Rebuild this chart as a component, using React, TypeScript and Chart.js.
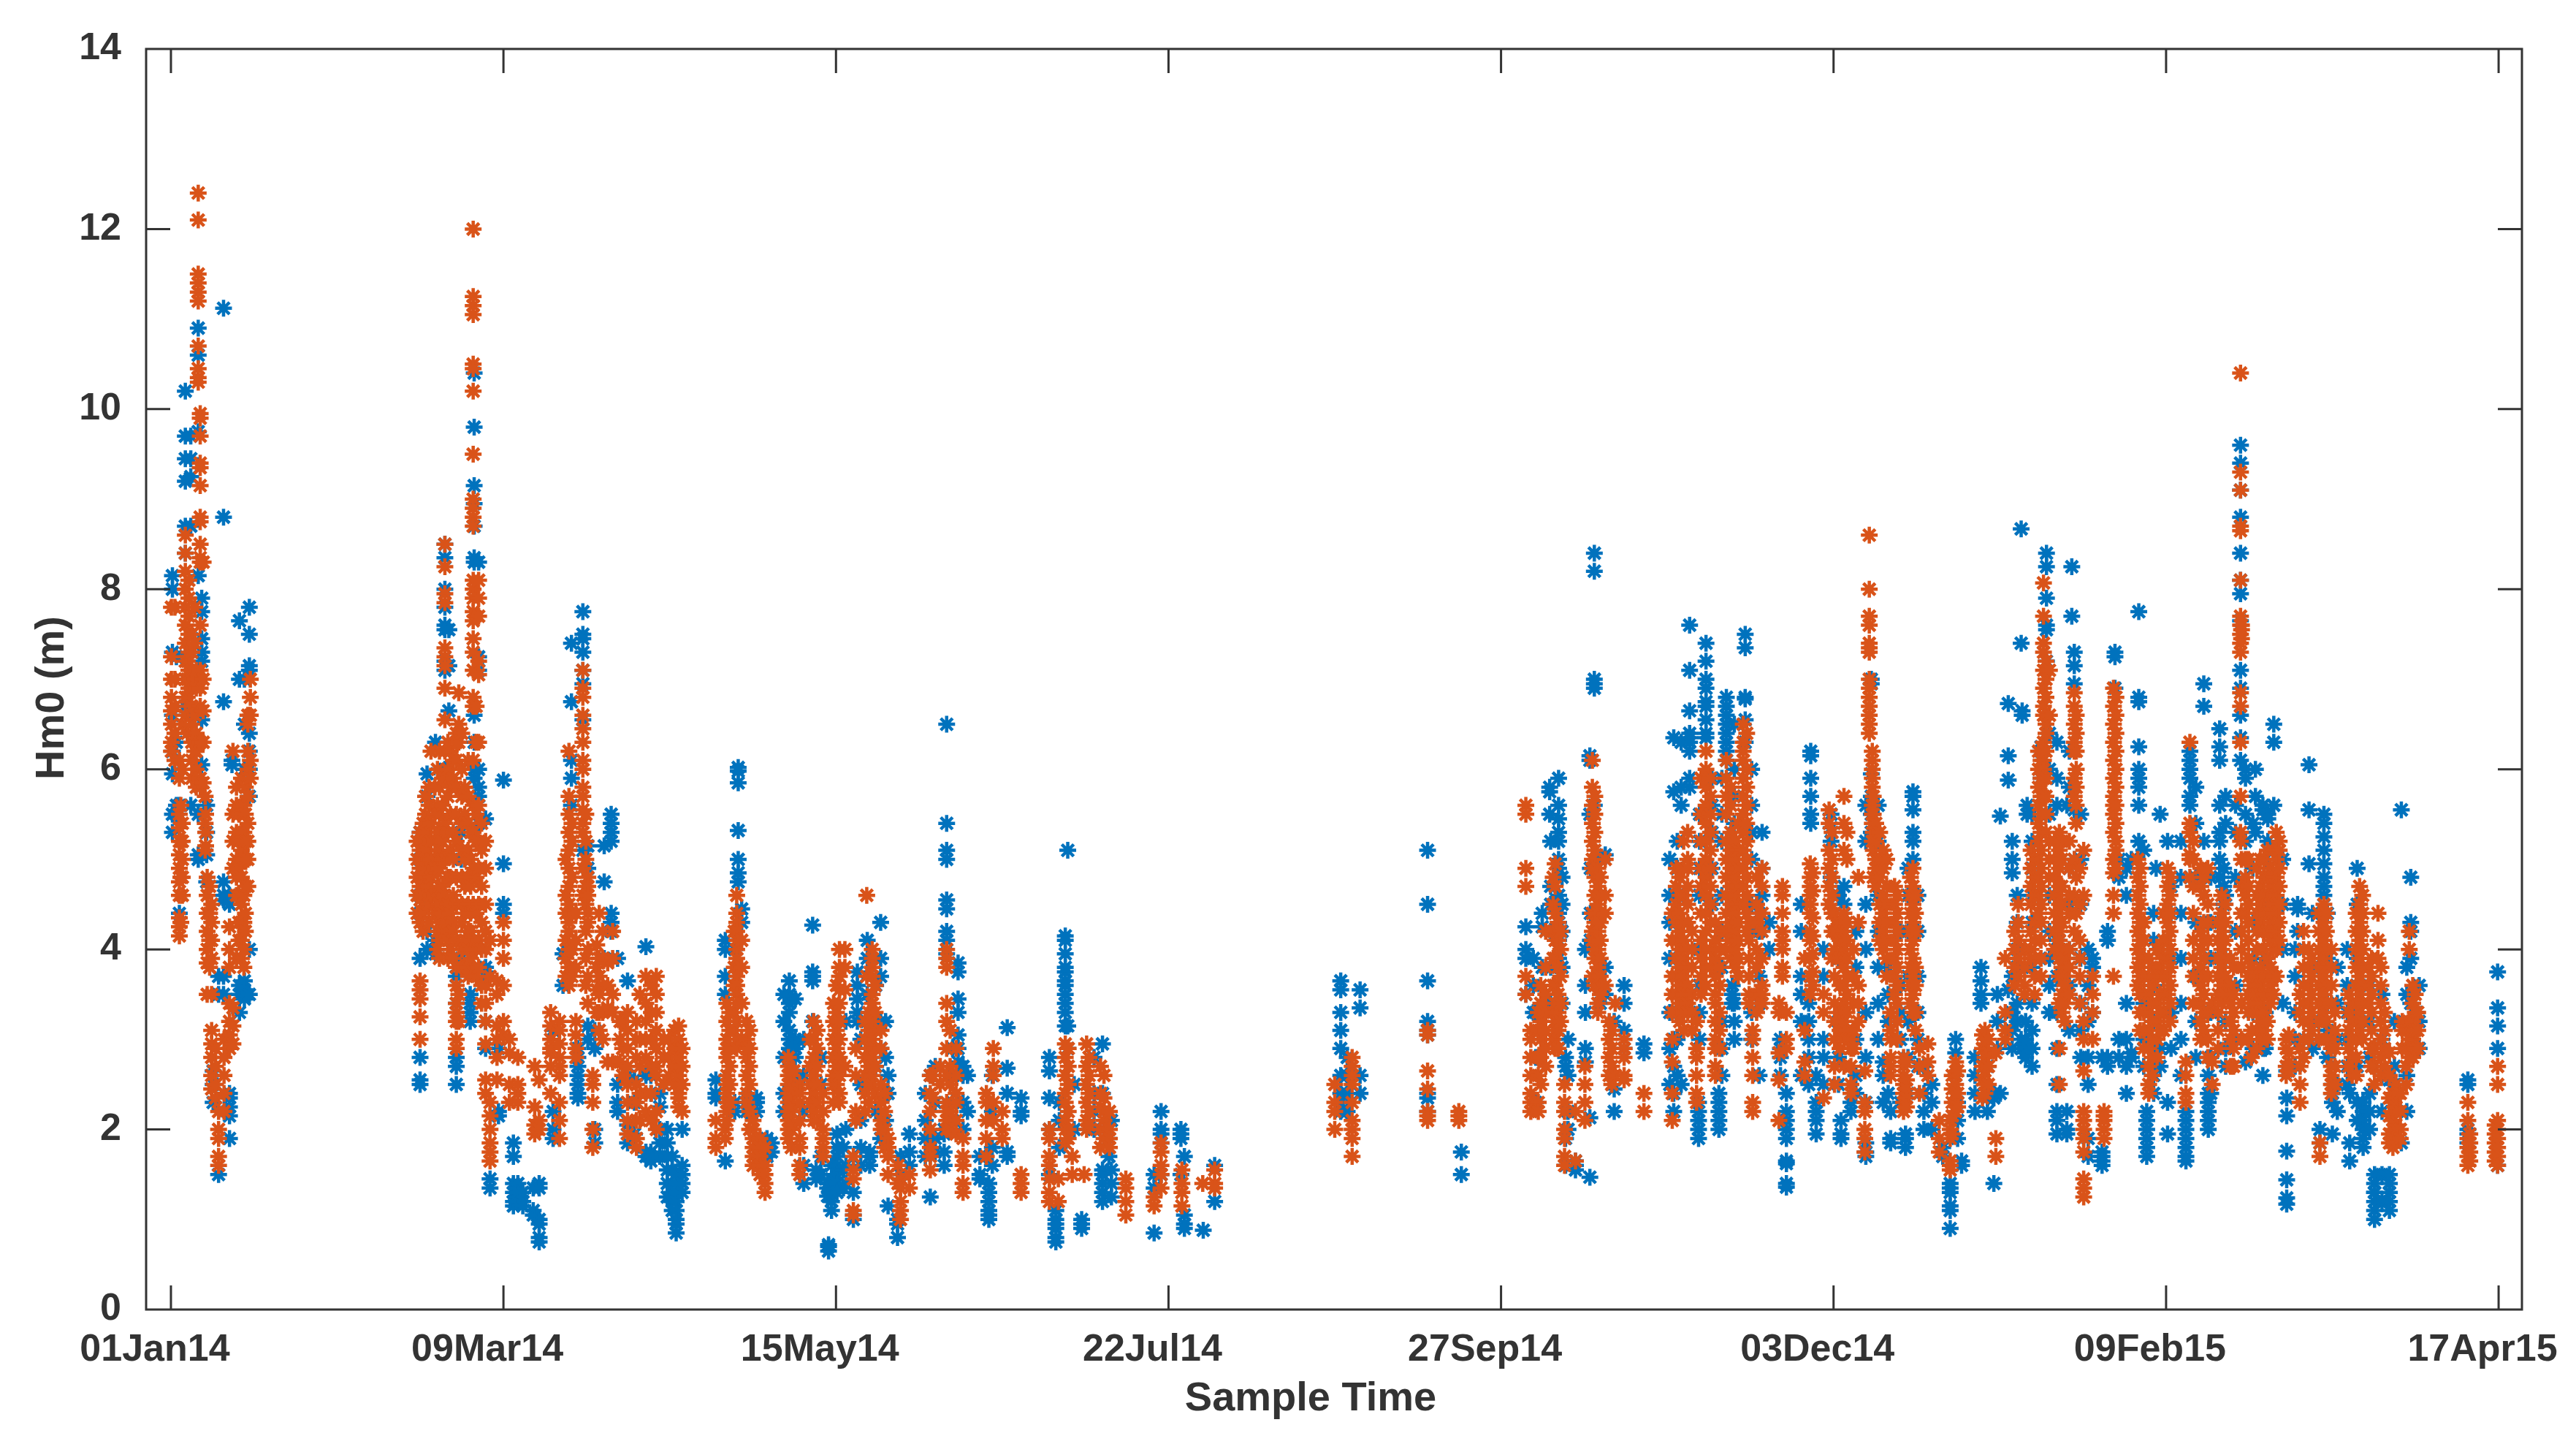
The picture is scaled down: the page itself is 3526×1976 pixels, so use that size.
import React, { useEffect, useRef } from "react";
import { Chart, registerables } from "chart.js";

Chart.register(...registerables);

type Col = [number, number[]];

const xTickValues = [0, 67, 134, 201, 268, 335, 402, 469];
const xTickLabels = ["01Jan14", "09Mar14", "15May14", "22Jul14", "27Sep14", "03Dec14", "09Feb15", "17Apr15"];
const yTickValues = [0, 2, 4, 6, 8, 10, 12, 14];

const janBlue: Col[] = [
  [0.3, [8.15, 8.0, 7.3, 6.6, 6.2, 5.95, 5.5, 5.3]],
  [1.1, [7.25, 5.6, 5.5, 6.3]],
  [1.7, [4.4, 5.6]],
  [2.9, [10.2, 9.7, 9.45, 9.2, 8.7, 8.4, 7.25, 6.7]],
  [4.0, [9.25, 9.45, 9.7, 8.7, 6.6, 5.6]],
  [5.5, [10.9, 10.6, 9.75, 8.15, 5.5, 5.05, 5.0]],
  [6.2, [7.9, 7.75, 7.45, 7.3, 7.2, 6.55, 6.05]],
  [7.2, [5.6, 5.3, 5.05, 4.75]],
  [8.5, [2.65, 2.5, 2.3]],
  [9.6, [1.5, 3.5, 3.7]],
  [10.6, [11.12, 8.8, 6.75, 4.75, 4.6, 4.55, 3.7, 3.5]],
  [11.8, [2.4, 2.35, 2.25, 2.15, 1.9, 4.6, 4.5]],
  [12.3, [6.1, 6.05]],
  [13.8, [7.65, 7.0, 3.6, 3.5, 3.3]],
  [14.8, [7.0, 6.5, 6.0, 3.65, 3.55, 3.45]],
  [15.8, [7.8, 7.5, 7.15, 7.1, 6.4, 6.2, 6.0, 5.7, 3.5, 4.0]],
];
const janOrange: Col[] = [
  [0.1, [7.8, 7.25, 7.0, 6.8, 6.65, 6.5, 6.3, 6.2]],
  [0.8, [7.8, 7.0, 6.7, 6.4, 6.1]],
  [1.7, [4.15, 4.25, 4.35, 4.6, 4.75, 4.9, 5.05, 5.2, 5.35, 5.5, 5.9, 6.1]],
  [2.0, [5.6, 5.2, 4.8, 4.3]],
  [2.3, [4.6, 4.8, 5.0, 5.2, 5.4, 6.0, 6.5]],
  [2.9, [6.6, 6.8, 7.0, 7.2, 7.4, 7.6, 7.8, 8.0, 8.2, 8.4, 8.6]],
  [3.3, [7.0, 7.2, 6.8, 6.4]],
  [3.6, [6.9, 7.1, 7.3, 7.5, 7.7, 7.9, 8.1]],
  [4.2, [5.9, 6.1, 6.3, 6.5, 6.7, 6.9, 7.1, 7.3, 7.5]],
  [4.8, [7.8, 7.4, 7.0, 6.6, 6.2]],
  [5.1, [5.8, 6.0, 6.2, 6.4, 6.9, 7.1]],
  [5.5, [12.4, 12.1, 11.5, 11.4, 11.3, 11.2, 10.7, 10.45, 10.35, 10.3]],
  [5.9, [9.95, 9.9, 9.7, 9.4, 9.35, 9.15, 8.8, 8.75, 8.5, 8.35, 8.3, 7.6, 7.1, 6.9, 6.7, 6.3, 5.9, 5.8]],
  [6.5, [7.0, 6.65, 6.3, 5.85, 8.3]],
  [6.9, [5.7, 5.4, 5.1]],
  [7.0, [5.5, 5.3, 5.15]],
  [7.3, [4.8, 4.6, 4.4, 4.2, 4.0, 3.85, 3.5]],
  [7.8, [4.7, 4.4, 4.1, 3.8]],
  [8.2, [3.1, 2.95, 2.8, 2.6, 2.45, 4.5, 4.3, 4.1, 3.9, 3.5]],
  [9.0, [2.9, 2.7, 2.5, 2.35]],
  [9.6, [2.2, 2.0, 1.9, 1.7, 1.6]],
  [10.7, [3.0, 2.8, 2.6, 2.4, 2.2]],
  [11.8, [3.4, 3.2, 3.05, 2.9, 3.8, 4.0, 4.25]],
  [12.5, [3.35, 3.15, 2.95, 5.5, 5.2, 4.9, 6.2]],
  [13.2, [5.8, 5.6, 5.3, 5.0, 4.8, 4.6, 3.9]],
  [13.7, [5.5, 5.2, 4.9, 4.6, 4.3, 4.1]],
  [14.2, [5.9, 5.6, 5.3, 5.1, 4.8, 4.5, 4.3, 4.1, 3.9]],
  [14.7, [5.6, 5.3, 5.0, 4.6, 4.3, 4.0, 3.8]],
  [15.0, [5.8, 5.5, 5.2, 5.0, 4.7, 4.4, 4.2]],
  [15.5, [6.6, 6.5, 6.2, 6.0, 5.7, 5.4, 5.2, 5.0, 4.7]],
  [16.0, [7.0, 6.8, 6.6, 6.1, 5.9]],
];

const marBlue: Col[] = [
  [50.2, [2.8, 2.55, 2.5, 3.9, 4.4, 4.6, 5.0, 5.3]],
  [51.6, [5.95, 5.7, 4.0, 4.2]],
  [53.3, [6.3, 4.1, 4.0, 3.95]],
  [55.2, [8.5, 8.35, 8.0, 7.8, 7.6, 7.55, 7.2, 7.1, 6.0]],
  [56.0, [7.55, 7.15, 6.65]],
  [57.5, [2.8, 2.7, 2.5, 3.4, 3.7]],
  [58.5, [5.3, 5.0, 3.9]],
  [60.3, [3.5, 3.4, 3.3, 3.2]],
  [61.1, [10.4, 9.8, 9.15, 8.95, 8.7, 8.35, 8.3, 6.6, 6.3, 6.0, 5.9]],
  [62.0, [8.3, 7.25, 7.1, 6.0, 5.8, 5.7, 5.4]],
  [63.4, [5.45, 3.8, 3.75, 3.7, 3.2, 2.9]],
  [64.3, [1.45, 1.35]],
  [66.0, [2.9, 2.2, 2.15]],
  [67.0, [5.88, 4.95, 4.5, 4.4]],
  [69.0, [1.85, 1.7, 1.4, 1.3, 1.2, 1.15]],
  [69.9, [1.4, 1.25, 1.2, 1.3]],
  [70.9, [1.3, 1.2, 1.15]],
  [73.0, [1.35, 1.1, 1.05]],
  [74.2, [1.4, 1.35, 1.0, 0.95]],
  [74.2, [0.8, 0.75]],
  [77.0, [2.2, 2.0, 1.9, 3.1]],
  [79.0, [3.95, 3.6]],
  [80.7, [7.4, 6.75, 6.1, 5.9, 5.6, 4.4]],
  [82.0, [2.8, 2.7, 2.6, 2.5, 2.4, 2.35, 2.9]],
  [83.0, [7.75, 7.5, 7.45, 7.3, 7.1, 6.95, 6.55, 5.1]],
  [84.0, [5.15, 4.9, 3.15, 3.0]],
  [85.4, [3.1, 2.9, 2.0, 1.85]],
  [87.3, [5.15, 4.75, 3.9]],
  [88.7, [5.5, 5.4, 5.3, 5.2, 4.4, 4.3, 4.2]],
  [90.0, [3.9, 2.5, 2.3, 2.2]],
  [92.0, [3.65, 2.6, 2.05, 1.85]],
  [93.4, [2.3, 1.95, 2.55]],
  [95.7, [4.03, 2.6, 1.75, 1.7]],
  [96.7, [1.7, 1.65, 2.6, 2.4, 1.75]],
  [98.5, [2.4, 2.25, 2.0, 1.85, 1.7]],
  [100.0, [2.0, 1.85, 1.7, 1.55, 1.4, 1.25]],
  [101.0, [1.7, 1.55, 1.4, 1.3, 1.2, 1.1]],
  [101.8, [1.5, 1.4, 1.3, 1.2, 1.1, 1.0, 0.95, 0.85]],
  [103.0, [2.0, 1.6, 1.5, 1.4, 1.3]],
];
const marOrange: Col[] = [
  [49.6, [5.2, 5.0, 4.8, 4.6, 4.4]],
  [50.2, [5.3, 5.1, 4.9, 4.7, 4.55, 4.3, 3.65, 3.55, 3.45, 3.25, 3.0]],
  [50.8, [5.4, 5.2, 5.0, 4.8, 4.6, 4.4, 4.2]],
  [51.3, [5.7, 5.5, 5.3, 5.1, 4.9, 4.75]],
  [52.0, [5.8, 5.6, 5.0, 4.7, 4.5, 4.3]],
  [52.4, [6.2, 5.4, 5.2, 5.0, 4.8, 4.6]],
  [53.2, [5.8, 5.5, 5.2, 4.9, 4.6, 4.4]],
  [53.7, [6.0, 5.6, 5.3, 5.05, 4.85, 4.65, 4.45, 4.2, 4.0]],
  [54.1, [6.2, 5.8, 5.5, 5.3, 5.1, 4.9, 4.7, 4.5, 4.3, 4.1, 3.9]],
  [54.7, [5.9, 5.6, 5.2, 5.0, 4.7, 4.4, 4.2]],
  [55.2, [8.5, 8.25, 7.95, 7.85, 7.35, 7.25, 7.15, 6.9, 6.55, 6.2, 5.9, 5.4, 5.0, 4.6, 4.2]],
  [55.8, [6.3, 6.0, 5.7, 5.3, 5.05, 4.8, 4.5, 4.3, 4.1, 3.9]],
  [56.3, [6.2, 5.8, 5.5, 5.1, 4.8, 4.4, 4.0]],
  [56.9, [6.1, 5.9, 5.3, 5.0, 4.6, 4.3, 4.2, 3.9]],
  [57.5, [6.4, 6.3, 6.1, 5.8, 5.5, 5.2, 4.8, 4.5, 4.1, 3.8, 3.6, 3.4, 3.3, 3.2, 3.0, 2.9]],
  [58.0, [6.85, 6.5, 6.3, 3.5, 3.2]],
  [58.6, [6.4, 6.0, 5.7, 5.4, 5.1, 4.8, 4.5, 4.3, 4.0, 3.8]],
  [59.2, [5.8, 5.5, 5.0, 4.7, 4.4, 4.1, 3.8]],
  [59.9, [6.1, 5.7, 5.4, 5.1, 4.8, 4.5, 4.2, 4.0, 3.8, 3.7]],
  [60.4, [5.3, 5.0, 4.7, 4.4, 4.2, 3.9]],
  [60.9, [12.0, 11.25, 11.15, 11.05, 10.5, 10.45, 10.2, 9.5, 9.0, 8.9, 8.8, 8.7, 8.1, 8.0, 7.9, 7.75, 7.65, 7.45, 7.3, 7.1, 6.8, 6.7, 6.1, 5.6, 5.3, 4.9, 4.5, 4.1, 3.75]],
  [61.5, [5.5, 5.2, 4.8, 4.4, 4.0, 3.7, 6.7, 6.3]],
  [62.0, [8.1, 7.9, 7.7, 7.2, 7.05, 6.3, 5.6, 5.2, 4.9, 4.5, 4.1, 3.8]],
  [62.6, [5.4, 5.1, 4.7, 4.3, 4.0, 3.6, 3.4]],
  [63.4, [5.2, 4.9, 4.5, 4.2, 4.0, 3.6, 3.4, 3.2, 2.95, 2.55, 2.4]],
  [64.3, [2.3, 2.15, 2.0, 1.85, 1.75, 1.65, 4.1, 3.7]],
  [65.7, [3.65, 3.5, 3.15, 3.0, 2.8, 2.55]],
  [67.0, [4.3, 4.1, 3.9, 3.6, 3.2, 3.05]],
  [68.2, [3.0, 2.85, 2.5, 2.3]],
  [69.9, [2.8, 2.4, 2.3, 2.5]],
  [73.3, [2.7, 2.25, 2.05, 1.95]],
  [74.2, [2.1, 2.0, 2.55]],
  [76.5, [3.3, 3.15, 3.0, 2.85, 2.7, 2.4, 2.9]],
  [78.3, [3.2, 3.1, 2.95, 2.8, 2.7, 2.6, 2.3, 2.1, 1.9]],
  [79.6, [5.0, 4.6, 4.4, 4.1, 3.9, 3.7]],
  [80.2, [6.2, 5.7, 5.5, 5.3, 5.1, 4.9, 4.7, 4.5, 4.3, 4.2, 4.0, 3.8, 3.6]],
  [80.8, [5.4, 5.2, 4.8, 4.4, 4.0, 3.7]],
  [81.6, [3.2, 3.05, 2.9, 2.8, 4.4, 4.1, 3.8]],
  [83.0, [7.1, 6.9, 6.8, 6.6, 6.45, 6.3, 6.1, 6.0, 5.8, 5.7, 5.55, 5.4, 5.3, 4.9, 4.6]],
  [83.6, [5.5, 5.2, 5.0, 4.7, 4.5, 4.2, 3.9, 3.6]],
  [84.0, [4.8, 4.7, 4.6, 4.4, 4.3, 4.0, 3.7, 3.4]],
  [85.0, [2.6, 2.5, 2.3, 2.0, 1.8]],
  [85.8, [4.05, 3.8, 3.55, 3.3]],
  [86.3, [4.4, 3.9, 3.7, 3.5, 3.3, 3.1]],
  [87.0, [4.2, 3.9, 3.6, 3.3, 3.0]],
  [88.0, [3.85, 3.6, 3.35, 2.75]],
  [89.0, [4.2, 3.9, 3.5, 3.3, 2.75]],
  [90.5, [3.2, 3.0, 2.75]],
  [91.0, [3.2, 2.9, 2.6]],
  [92.0, [3.3, 3.1, 2.9, 2.7, 2.5, 2.3, 2.1, 1.95]],
  [93.8, [3.2, 3.0, 2.8, 2.5, 2.3, 2.1, 1.9, 1.8]],
  [94.5, [3.5, 3.0, 2.7, 2.4, 2.1]],
  [95.7, [3.7, 3.4, 3.2, 3.0, 2.8, 2.2, 2.4]],
  [96.8, [3.6, 3.3, 3.0, 2.7, 2.4, 2.1]],
  [97.8, [3.7, 3.5, 3.3, 3.1, 2.9, 2.7, 2.6, 2.2, 2.0]],
  [99.3, [3.0, 2.8, 2.5]],
  [100.4, [3.0, 2.8, 2.6]],
  [101.5, [3.1, 2.9, 2.7, 2.5]],
  [102.3, [3.15, 3.0, 2.8, 2.6, 2.4, 2.35, 2.25]],
  [103.0, [2.9, 2.7, 2.5, 2.2]],
];

const mayBlue: Col[] = [
  [109.8, [2.55, 2.4, 2.35]],
  [111.7, [4.1, 4.0, 3.7, 3.5, 1.65]],
  [113.6, [2.3, 2.2, 4.0]],
  [114.3, [6.02, 5.98, 5.85, 5.32, 5.0, 4.85, 4.75]],
  [115.0, [4.45, 4.3]],
  [116.0, [2.3, 2.35, 2.2]],
  [118.0, [2.35, 2.3, 2.2]],
  [120.1, [1.9, 1.7]],
  [121.0, [1.85, 1.75]],
  [123.5, [3.5, 3.2, 2.8, 2.4, 2.2]],
  [124.6, [3.65, 3.5, 3.4, 3.3, 3.1, 3.0, 2.9]],
  [125.8, [3.45, 3.0, 2.95, 2.8, 2.6, 2.9]],
  [127.5, [3.0, 2.6, 2.2, 1.6, 1.4]],
  [129.3, [4.27, 3.75, 3.7, 3.65, 3.2]],
  [130.0, [1.45, 1.55]],
  [131.0, [2.8, 2.5, 1.7, 1.5]],
  [132.3, [1.4, 1.35, 1.26]],
  [132.5, [0.7, 0.65, 0.72]],
  [133.1, [1.2, 1.1, 1.45, 1.6]],
  [134.2, [1.95, 1.8, 1.7, 1.6, 1.5, 1.4, 1.3]],
  [135.5, [1.8, 1.55, 1.35]],
  [136.0, [3.2, 2.0, 1.6, 1.4]],
  [137.5, [1.3, 1.05, 1.0]],
  [138.3, [3.75, 3.45, 3.3, 3.2, 3.6]],
  [139.0, [3.0, 2.5, 2.1, 1.8, 1.6]],
  [140.3, [4.1, 3.9, 3.5]],
  [140.8, [1.7, 1.6, 1.75]],
  [142.0, [3.6, 3.2, 2.7, 2.2]],
  [143.0, [4.3, 3.9, 3.7, 3.2, 2.9, 1.9]],
  [144.0, [3.2, 2.8, 2.4, 2.1]],
  [144.5, [1.15, 2.6, 2.4]],
  [146.4, [0.95, 0.8, 1.0]],
  [147.0, [1.7, 1.5]],
  [148.8, [1.95, 1.75, 1.6]],
  [152.0, [2.4, 2.1, 1.9, 1.7]],
  [153.0, [1.25, 2.6, 1.9]],
  [154.0, [2.7, 2.3, 1.9, 1.75]],
  [155.8, [1.95, 1.75, 1.6, 2.0]],
  [156.3, [6.5, 5.4, 5.1, 5.0, 4.55, 4.45, 4.2, 4.1, 3.95]],
  [157.5, [2.9, 2.6, 2.3, 2.1]],
  [158.6, [3.85, 3.75, 3.45, 3.3, 3.05, 2.9, 2.75]],
  [159.6, [2.7, 2.6, 2.3, 2.0]],
  [160.5, [2.6, 2.2]],
  [163.0, [1.7, 1.5, 1.45]],
  [164.8, [1.4, 1.2, 1.1, 1.05, 1.0, 1.3]],
  [165.5, [2.6, 2.2, 1.8, 1.6]],
  [168.5, [3.13, 2.68, 2.4, 1.7, 1.75]],
  [171.3, [2.35, 2.2, 2.15]],
  [177.0, [2.8, 2.65, 2.35, 2.0, 1.5]],
  [178.3, [1.1, 1.0, 0.9, 0.8, 0.75, 0.95]],
  [179.0, [2.3, 2.1, 1.8]],
  [180.2, [4.15, 4.1, 3.95, 3.8, 3.75, 3.65, 3.6, 3.5, 3.4, 3.3, 3.15]],
  [180.7, [5.1, 3.15, 2.9]],
  [182.0, [2.5, 2.0]],
  [183.5, [1.0, 0.95, 0.9]],
  [186.0, [2.8, 2.4, 2.2, 2.0]],
  [187.7, [2.95, 2.4, 1.5, 1.4, 1.3, 1.2, 1.55]],
  [189.0, [2.1, 1.9, 1.7]],
  [189.5, [1.55, 1.4, 1.25, 2.1]],
  [198.1, [0.85, 1.5, 1.35]],
  [199.5, [2.2, 2.0, 1.95, 1.85, 1.5]],
  [203.5, [2.0, 1.95, 1.9, 1.5]],
  [204.2, [1.7, 1.05, 0.95, 0.9]],
  [208.0, [0.88]],
  [210.3, [1.6, 1.2]],
];
const mayOrange: Col[] = [
  [109.8, [2.1, 1.9, 1.8]],
  [111.7, [2.0, 1.9]],
  [112.0, [3.4, 3.2, 3.0, 2.9, 2.8, 2.6, 2.5, 2.4, 2.3, 2.2, 2.1]],
  [112.6, [3.3, 3.1, 2.9, 2.7, 2.5, 2.3]],
  [113.5, [4.2, 3.8, 3.6, 3.3, 3.1]],
  [114.0, [4.6, 4.4, 4.3, 4.2, 4.1, 4.0, 3.9, 3.7, 3.6, 3.5, 3.4, 3.2, 3.0, 2.9]],
  [115.0, [4.1, 3.8, 3.4, 3.0]],
  [116.0, [3.2, 3.0, 2.9, 2.8, 2.6, 2.4, 2.3]],
  [116.6, [3.1, 2.9, 2.7, 2.5, 2.2, 2.0]],
  [117.3, [2.1, 2.0, 1.9, 1.8, 1.7, 1.6]],
  [118.7, [1.9, 1.8, 1.7, 1.6, 1.5]],
  [119.7, [1.8, 1.6, 1.5, 1.3, 1.4]],
  [124.4, [2.8, 2.7, 2.6, 2.5, 2.4, 2.3, 2.2, 2.1, 2.0, 1.9]],
  [125.0, [2.6, 2.4, 2.2, 2.0, 1.8]],
  [125.5, [2.65, 2.45, 2.25, 2.05]],
  [126.7, [2.5, 2.4, 2.3, 2.1, 1.9, 1.8, 1.6, 1.5]],
  [128.8, [3.0, 2.7, 2.5, 2.3]],
  [129.5, [3.2, 3.0, 2.8, 2.6, 2.4, 2.2, 2.1]],
  [130.2, [3.1, 2.9, 2.7, 2.5, 2.3, 2.1]],
  [131.4, [2.4, 2.2, 2.0, 1.9, 1.8, 1.7]],
  [133.5, [3.4, 3.2, 3.0, 2.8, 2.6, 2.5, 2.3]],
  [134.1, [3.6, 3.3, 3.1, 2.9, 2.7, 2.5]],
  [134.7, [4.0, 3.8, 3.7, 3.55, 3.4, 3.2, 3.0, 2.8, 2.6, 2.4, 2.3]],
  [135.8, [4.0, 3.8, 3.55, 2.7]],
  [137.5, [1.7, 1.55, 1.45, 1.1, 1.05]],
  [138.0, [2.2, 2.1, 2.9, 2.6]],
  [139.9, [3.2, 3.0, 2.8, 2.6, 2.4, 2.2]],
  [140.2, [4.6, 3.7]],
  [140.6, [3.3, 3.1, 2.9, 2.7, 2.5, 2.3]],
  [141.3, [4.0, 3.9, 3.8, 3.7, 3.5, 3.4, 3.2, 3.0, 2.8, 2.6, 2.5]],
  [141.9, [3.6, 3.3, 3.1, 2.9, 2.7, 2.4]],
  [143.1, [2.5, 2.3, 2.1, 2.0, 2.9, 3.1]],
  [143.8, [2.4, 2.2, 2.0, 1.8]],
  [144.5, [1.9, 1.8, 1.7, 1.5]],
  [146.5, [1.6, 1.4]],
  [147.0, [1.45, 1.35, 1.2, 1.1, 1.0]],
  [148.8, [1.5, 1.35]],
  [153.0, [2.6, 2.4, 2.2, 2.0, 1.8, 1.7, 1.55]],
  [153.5, [2.6, 2.35]],
  [155.0, [2.7, 2.5]],
  [156.3, [4.0, 3.9, 3.8, 3.4, 3.2, 2.9, 2.6, 2.3, 2.2, 2.1, 2.0]],
  [157.0, [3.1, 2.7, 2.5, 2.2, 2.0]],
  [158.2, [2.9, 2.6, 2.4, 2.3, 2.1, 1.95]],
  [159.6, [1.9, 1.7, 1.6, 1.4, 1.3]],
  [164.3, [2.4, 2.3, 2.1, 1.9, 1.7]],
  [165.7, [2.9, 2.7, 2.6, 2.3, 2.1]],
  [167.5, [2.0, 1.9, 2.2]],
  [171.3, [1.5, 1.4, 1.3]],
  [177.0, [2.0, 1.9, 1.7, 1.6, 1.45, 1.3, 1.2]],
  [178.8, [1.2, 1.45]],
  [180.2, [2.95, 2.8, 2.6, 2.4, 2.3, 2.1, 2.0, 1.85]],
  [180.8, [2.9, 2.7, 2.5, 2.2, 2.0, 1.9]],
  [181.6, [1.7, 1.5]],
  [184.0, [1.5]],
  [184.5, [2.95, 2.7, 2.5, 2.3, 2.1, 2.0]],
  [185.0, [2.8, 2.6, 2.4, 2.2, 2.05]],
  [187.3, [2.7, 2.4, 2.25, 2.0, 1.8]],
  [188.0, [2.6, 2.35, 2.2, 2.1, 1.9]],
  [189.1, [2.2, 2.0, 1.9, 1.8]],
  [192.4, [1.45, 1.35, 1.2, 1.05]],
  [198.1, [1.25, 1.15]],
  [199.5, [1.85, 1.75, 1.6, 1.5, 1.35]],
  [203.7, [1.55, 1.4, 1.3, 1.15]],
  [207.9, [1.4]],
  [210.3, [1.55, 1.4, 1.35]],
];

const sepBlue: Col[] = [
  [235.7, [3.65, 3.55, 3.3, 3.1, 2.9, 2.6, 2.4, 2.3, 2.2]],
  [237.0, [2.8, 2.6, 2.4, 2.2]],
  [239.6, [3.55, 3.35, 2.6, 2.4]],
  [253.2, [5.1, 4.5, 3.65, 3.2, 3.1, 3.05, 2.4, 2.35, 2.2]],
  [260.0, [1.75, 1.5]],
  [273.0, [4.25, 4.0, 3.9, 3.5]],
  [274.5, [3.9, 3.6, 3.3]],
  [275.0, [3.3, 2.8, 2.3]],
  [276.3, [4.25, 4.4, 3.8]],
  [277.8, [5.8, 5.75, 5.5]],
  [278.0, [5.2, 4.7, 4.5, 4.2, 3.8, 3.4]],
  [279.6, [5.9, 5.6, 5.45, 5.3, 5.2, 5.0, 4.9, 4.6, 4.4, 4.3, 4.1, 3.9]],
  [280.3, [4.8, 4.5, 4.2, 3.8, 3.4]],
  [281.0, [2.8, 2.7, 1.9, 1.6]],
  [281.5, [3.0, 2.6, 2.2, 2.0]],
  [283.0, [1.65, 1.6, 1.55]],
  [285.0, [4.0, 3.6, 3.3, 2.9, 2.75]],
  [285.9, [6.15, 6.1, 5.5, 2.13, 1.47]],
  [286.0, [4.9, 4.4, 4.1]],
  [286.8, [8.4, 8.2, 7.0, 6.95, 6.9, 5.6]],
  [288.0, [5.0, 4.6, 3.4]],
  [289.0, [3.8, 3.5, 5.05]],
  [290.8, [2.45, 2.2, 3.2]],
  [292.8, [3.6, 3.4, 3.1, 2.9]],
  [296.8, [2.95, 2.85]],
];
const sepOrange: Col[] = [
  [234.5, [2.5, 2.3, 2.2, 2.0]],
  [238.0, [2.8, 2.7, 2.6, 2.5, 2.3, 2.1, 2.0, 1.9, 1.7]],
  [253.2, [3.1, 3.05, 2.65, 2.45, 2.2, 2.15, 2.1]],
  [259.5, [2.2, 2.15, 2.1]],
  [273.0, [5.6, 5.5, 4.9, 4.7, 3.7, 3.5]],
  [274.0, [3.1, 3.0, 2.8, 2.6, 2.4, 2.3, 2.2]],
  [275.5, [3.3, 3.1, 2.8, 2.6, 2.3, 2.2]],
  [276.0, [3.6, 3.4, 3.2, 3.0, 2.8, 2.5]],
  [277.0, [4.2, 3.8, 3.5, 3.3, 3.1, 2.9, 2.7]],
  [278.5, [4.8, 4.5, 4.2, 3.9, 3.6, 3.3, 3.0]],
  [278.9, [4.95, 4.7, 4.4, 4.1, 3.9, 3.6, 3.4, 3.2, 3.1, 2.9]],
  [279.5, [4.3, 4.1, 3.8, 3.5, 3.3, 3.1, 2.9]],
  [280.0, [4.2, 4.0, 3.7, 3.4, 3.2]],
  [280.8, [2.5, 2.3, 2.2, 2.0, 1.9, 1.7, 1.6]],
  [283.0, [2.2, 1.65]],
  [284.9, [2.7, 2.5, 2.3, 2.1]],
  [286.4, [6.1, 5.8, 5.6, 5.4, 5.2, 5.0, 4.9, 4.4, 4.2, 4.1, 3.7]],
  [286.9, [5.7, 5.5, 5.3, 5.1, 4.8, 4.6, 4.3, 4.0, 3.9, 3.6]],
  [287.5, [4.9, 4.7, 4.5, 4.4, 4.2, 4.0, 3.8, 3.6, 3.4, 3.3]],
  [288.0, [4.8, 4.6, 4.3, 4.1, 3.9, 3.7, 3.5]],
  [289.0, [5.0, 4.6, 4.4, 3.6]],
  [289.8, [3.2, 3.0, 2.8, 2.6]],
  [290.3, [3.1, 2.9, 2.7, 2.5]],
  [291.0, [3.4, 2.6]],
  [292.8, [3.0, 2.9, 2.8, 2.6, 2.55]],
  [296.8, [2.4, 2.2]],
];

const novBlue: Col[] = [
  [302.0, [5.0, 4.6, 4.3, 3.9, 3.3, 2.9, 2.5]],
  [302.8, [6.35, 5.75, 3.0, 2.7, 2.4, 2.2]],
  [303.5, [5.2, 4.9, 4.6, 3.0, 2.6]],
  [304.3, [6.3, 5.8, 5.6, 2.5]],
  [306.0, [7.6, 7.1, 6.65, 6.4, 6.35, 6.3, 6.2, 5.9, 5.8]],
  [307.8, [1.9, 2.0, 2.1, 2.2, 2.3]],
  [308.0, [5.5, 5.2, 4.9, 4.6, 4.0, 3.6, 3.3, 3.0]],
  [309.3, [7.4, 7.2, 7.0, 6.9, 6.75, 6.7, 6.55, 6.4, 6.35]],
  [310.5, [5.9, 5.6, 5.3, 4.9, 4.5]],
  [311.9, [2.4, 2.3, 2.2, 2.1, 2.0]],
  [312.5, [5.9, 5.5, 5.2, 4.6, 4.2, 3.8, 3.2, 2.9, 2.6]],
  [313.4, [6.8, 6.7, 6.6, 6.5, 6.4, 6.3, 6.2, 6.1]],
  [314.6, [3.6, 3.5, 3.4]],
  [315.0, [6.5, 6.0, 5.7, 5.4, 5.0, 4.5, 3.4, 3.2, 3.0]],
  [317.2, [7.5, 7.35, 6.8, 6.78, 6.55, 6.3]],
  [318.5, [6.0, 5.6, 5.3, 5.0, 4.5, 4.2, 3.3, 3.0]],
  [320.0, [4.4, 4.2, 3.7, 3.4, 2.6]],
  [320.6, [5.3, 4.9, 4.6]],
  [322.0, [4.3, 4.0]],
  [324.3, [3.0, 2.9, 2.8, 2.6]],
  [325.5, [2.4, 2.2, 2.1, 2.0, 1.9, 1.65, 1.62, 1.4, 1.36]],
  [328.5, [4.5, 4.2, 3.7, 3.5, 3.2, 2.6]],
  [330.0, [3.4, 3.2, 3.0, 2.8, 2.5]],
  [330.4, [6.2, 6.15, 5.9, 5.7, 5.5, 5.4]],
  [331.5, [2.6, 2.3, 2.2, 2.1, 1.95]],
  [333.0, [4.0, 3.7, 3.0, 2.8, 2.5]],
  [334.5, [5.5, 5.35, 5.2, 4.8]],
  [336.0, [4.6, 3.9, 3.2, 2.8, 2.5]],
  [336.5, [2.1, 1.95, 1.9]],
  [337.1, [4.7, 4.5]],
  [338.5, [2.3, 2.2]],
  [339.5, [4.2, 3.8, 3.0, 2.6, 2.4]],
  [341.5, [1.75, 1.7, 1.85, 2.3, 5.6, 5.2, 4.5, 4.0, 3.3, 2.8]],
  [342.6, [7.0, 6.95, 5.95, 5.7, 5.5, 5.3]],
  [344.0, [5.6, 5.2, 4.6, 4.2, 3.8, 3.4, 3.0]],
  [345.0, [2.75, 2.6, 2.3]],
  [346.0, [3.8, 3.5, 3.2, 2.4]],
  [346.5, [2.2, 1.9, 1.85]],
  [348.5, [4.2, 3.6, 3.3, 3.0, 2.3]],
  [349.5, [1.95, 1.8, 1.9]],
  [350.0, [4.9, 4.6, 4.2, 3.7, 3.2, 2.8, 2.4]],
  [351.0, [5.75, 5.7, 5.55, 5.3, 5.2, 5.0]],
  [352.0, [4.6, 4.2, 3.7, 3.3, 3.0, 2.7]],
  [353.2, [2.7, 2.4, 2.2, 2.0]],
  [354.8, [2.5, 2.3, 2.0]],
  [357.0, [1.8, 1.7]],
  [358.5, [1.4, 1.35, 1.3, 1.15, 0.9, 1.1]],
  [359.6, [3.0, 2.85, 2.6]],
  [360.0, [2.3, 2.1, 1.9]],
  [360.8, [1.65, 1.6]],
];
const novOrange: Col[] = [
  [302.5, [3.0, 2.75, 2.4, 2.1, 3.7, 3.5, 3.3, 4.1, 4.4]],
  [303.3, [4.9, 4.7, 4.5, 4.3, 4.1, 3.9, 3.7, 3.5, 3.3]],
  [304.0, [4.8, 4.6, 4.4, 4.2, 4.0, 3.8, 3.6, 3.4, 3.2]],
  [304.8, [5.2, 4.9, 4.6, 4.3, 4.1, 3.9, 3.7, 3.5, 3.3, 3.1]],
  [305.6, [5.3, 5.0, 4.9, 4.7, 4.5, 4.3, 4.0, 3.8, 3.6, 3.4, 3.3]],
  [306.5, [4.2, 4.0, 3.8, 3.5, 3.3, 3.1]],
  [307.4, [3.2, 2.9, 2.8, 2.6, 2.4, 2.3]],
  [308.3, [5.9, 5.5, 5.2, 4.9, 4.7, 4.4, 4.1, 3.9, 3.7, 3.5]],
  [309.3, [6.2, 6.0, 5.8, 5.6, 5.4, 5.2, 5.0, 4.8, 4.6, 4.4, 4.2, 4.0, 3.8, 3.6]],
  [310.2, [5.9, 5.7, 5.5, 5.3, 5.1, 4.9, 4.7, 4.5, 4.3, 4.0, 3.8]],
  [311.2, [4.3, 4.1, 3.9, 3.7, 3.5, 3.4, 3.2, 3.0, 2.9, 2.7, 2.6]],
  [312.0, [4.2, 4.0, 3.8, 3.6, 3.3, 3.1, 2.9]],
  [313.4, [6.1, 5.9, 5.7, 5.5, 5.2, 5.0, 4.8, 4.6, 4.4, 4.2, 4.0]],
  [314.3, [5.8, 5.6, 5.3, 5.1, 4.9, 4.7, 4.5, 4.3, 4.1, 3.9]],
  [315.3, [5.2, 5.0, 4.8, 4.6, 4.4, 4.2, 4.0, 3.8]],
  [315.8, [5.4, 5.1, 4.9, 4.7, 4.5, 4.3, 4.1, 3.9, 3.7]],
  [316.8, [6.5, 6.3, 6.2, 6.1, 5.9, 5.7, 5.5, 5.3, 5.1, 4.9, 4.7, 4.5]],
  [317.5, [6.4, 6.0, 5.8, 5.6, 5.4, 5.2, 5.0, 4.8, 4.6, 4.4, 4.2]],
  [318.0, [4.3, 4.1, 3.9, 3.7, 3.5, 3.4]],
  [318.7, [3.1, 3.0, 2.8, 2.6, 2.3, 2.2]],
  [319.5, [4.8, 4.5, 4.3, 4.0, 3.8, 3.5, 3.3]],
  [320.6, [4.9, 4.7, 4.4, 4.2, 3.9, 3.6, 3.5, 3.4]],
  [324.0, [3.4, 3.3, 2.85, 2.55, 2.1]],
  [324.7, [4.7, 4.6, 4.4, 4.2, 4.1, 4.0, 3.8, 3.7]],
  [325.5, [3.3, 3.0, 2.9]],
  [329.2, [2.75, 2.6, 3.9, 3.1]],
  [330.3, [4.95, 4.8, 4.7, 4.6, 4.5, 4.4, 4.2, 4.1, 3.9, 3.7, 3.5]],
  [330.8, [4.85, 4.65, 4.35, 4.15, 3.95, 3.75, 3.6]],
  [333.0, [3.5, 3.3, 2.35]],
  [334.1, [5.55, 5.4, 5.1, 4.9, 4.7, 4.5]],
  [334.7, [5.3, 5.0, 4.8, 4.6, 4.4, 4.2, 3.9]],
  [335.2, [4.4, 4.2, 4.0, 3.7, 3.4, 3.2, 3.0, 2.7, 2.5]],
  [336.3, [4.3, 4.1, 3.9, 3.6, 3.3, 3.1, 2.9]],
  [337.1, [5.7, 5.4, 5.1, 4.4, 4.2, 4.0, 3.8, 3.6, 3.4, 3.2, 3.0, 2.7]],
  [337.7, [5.3, 5.0, 4.3, 4.1, 3.9, 3.7, 3.5, 3.3, 3.1]],
  [338.5, [3.0, 2.9, 2.7, 2.5, 2.4]],
  [339.0, [4.0, 3.7, 3.4, 3.1, 2.9]],
  [340.0, [4.8, 4.3, 3.6, 3.4, 3.2]],
  [341.3, [2.65, 2.3, 2.2, 2.0, 1.9, 1.75]],
  [342.2, [8.6, 8.0, 7.7, 7.6, 7.4, 7.35, 7.3, 7.0, 6.9, 6.8, 6.7, 6.6, 6.5, 6.4]],
  [342.8, [6.2, 6.1, 6.0, 5.9, 5.8, 5.6, 5.5, 5.4, 5.2]],
  [343.0, [5.7, 5.5, 5.3, 5.1, 4.8]],
  [343.5, [5.4, 5.2, 5.0, 4.9, 4.7]],
  [344.3, [5.3, 5.0, 4.8, 4.5, 4.3, 4.1]],
  [345.0, [5.1, 4.9, 4.6, 4.4, 4.2, 4.0]],
  [345.7, [5.0, 4.7, 4.5, 4.3, 4.1, 3.9, 3.7]],
  [346.5, [3.3, 3.1, 3.0, 2.8, 2.7, 2.6]],
  [347.3, [4.7, 4.5, 4.3, 4.1, 3.9, 3.7, 3.5]],
  [347.8, [4.6, 4.4, 4.2, 4.0, 3.8, 3.6, 3.4, 3.2, 3.0]],
  [349.1, [2.8, 2.7, 2.6, 2.5, 2.4, 2.3, 2.2]],
  [349.7, [2.75, 2.55, 2.45, 2.35, 2.25]],
  [350.5, [4.8, 4.6, 4.4, 4.2, 4.0, 3.8, 3.6, 3.4]],
  [351.0, [4.9, 4.7, 4.5, 4.3, 4.1, 3.9, 3.7, 3.5, 3.3]],
  [351.5, [4.6, 4.4, 4.2, 3.8, 3.6, 3.3, 3.1]],
  [352.3, [2.9, 2.7, 2.4]],
  [354.0, [2.95, 2.75, 2.6]],
  [356.3, [2.1, 1.9, 1.75]],
  [358.5, [2.1, 2.0, 1.9, 1.65, 1.6, 1.55]],
  [358.9, [2.6, 2.45, 2.3, 2.15, 1.95]],
  [359.6, [2.75, 2.6, 2.5, 2.3, 2.2]],
  [360.0, [2.65, 2.4, 2.25]],
];

const janFebBlue: Col[] = [
  [363.5, [2.8, 2.6, 2.4, 2.2]],
  [364.7, [3.8, 3.65, 3.5, 3.4]],
  [366.0, [2.7, 2.45, 2.35, 2.2]],
  [367.3, [1.4, 2.4, 2.35]],
  [368.0, [3.5, 3.2, 2.9]],
  [368.6, [5.48, 2.4]],
  [370.2, [6.73, 6.15, 5.88, 3.55]],
  [371.0, [5.2, 5.0, 4.85, 3.7, 3.3, 3.1, 2.9]],
  [372.0, [4.6, 4.3, 4.0, 3.8, 3.4, 3.2]],
  [372.8, [8.67, 7.4, 3.0, 2.9]],
  [373.0, [6.6, 6.65]],
  [373.7, [3.0, 2.9, 2.8, 2.85, 2.95, 3.2]],
  [374.0, [5.6, 5.5]],
  [375.0, [5.5, 5.2, 4.9, 4.6, 4.3, 3.8, 3.4, 3.1, 2.9, 2.7]],
  [376.8, [6.25, 6.2, 5.9]],
  [377.9, [8.4, 8.25, 7.9, 7.6, 7.55, 7.2]],
  [378.5, [6.4, 6.0, 5.5, 4.6, 4.2, 3.9, 3.6, 3.3]],
  [380.0, [2.2, 2.1, 1.95, 6.3, 5.9, 5.6, 4.1, 3.7, 3.3, 2.9, 2.5]],
  [382.0, [2.2, 2.0, 1.95, 5.6]],
  [382.5, [6.2, 5.8, 4.9, 4.5, 4.0, 3.6, 3.1]],
  [383.0, [8.25, 7.7]],
  [383.5, [7.3, 7.15, 6.95, 5.55, 5.0]],
  [384.8, [5.5, 5.0, 4.5, 3.9, 3.4, 3.1, 2.8]],
  [386.3, [4.0, 3.6, 3.2, 2.8, 2.5, 1.9, 1.7]],
  [387.2, [3.8, 3.9, 3.3]],
  [389.1, [1.75, 1.7, 1.65, 1.6, 2.8]],
  [390.2, [2.8, 2.7, 4.2, 4.1]],
  [391.7, [7.3, 7.25, 6.9]],
  [392.5, [5.0, 4.8, 3.0, 2.8]],
  [394.0, [4.9, 4.6, 3.4, 3.0, 2.7, 2.4]],
  [395.0, [2.85, 2.8, 5.0]],
  [396.5, [7.75, 6.8, 6.75, 6.25, 6.0, 5.9, 5.8, 5.6, 5.2]],
  [397.5, [5.1, 3.9, 3.4, 3.0, 2.7]],
  [398.1, [2.2, 2.1, 2.0, 1.9, 1.8, 1.7]],
  [399.5, [4.4, 4.1, 3.6, 3.2, 2.9, 2.6, 2.4]],
  [400.0, [4.9, 2.75]],
  [400.8, [5.5, 2.9, 2.7]],
  [402.3, [5.2, 2.3, 1.95]],
  [403.0, [4.7, 4.4, 3.9, 3.3, 2.9]],
  [405.0, [5.2, 4.8, 4.4, 3.9, 3.4, 3.0, 2.6]],
  [406.0, [2.2, 2.1, 2.0, 1.9, 1.8, 1.7, 1.65]],
  [406.8, [6.2, 6.1, 6.0, 5.9, 5.7, 5.6]],
  [408.0, [5.8, 5.4, 4.8, 4.3, 3.7, 3.2, 2.8]],
  [409.6, [6.95, 6.7, 5.2]],
  [410.5, [2.6, 2.4, 2.3, 2.2, 2.1, 2.0]],
  [411.0, [4.8, 4.3, 3.9, 3.3, 2.8, 2.4]],
  [412.8, [6.45, 6.25, 6.1, 5.6, 5.3, 5.2, 5.0, 4.8]],
  [413.6, [4.9, 4.7, 4.5]],
  [414.0, [5.7, 5.4, 4.6, 3.9, 3.2, 2.9, 2.7]],
  [416.0, [5.6, 5.3, 4.8, 4.2, 3.6, 3.0]],
  [417.0, [9.6, 9.4, 9.1, 8.8, 8.4, 8.1, 7.95, 7.65, 7.1, 6.9, 6.6, 6.35, 6.1]],
  [418.0, [6.0, 5.9, 5.5, 5.2, 2.75]],
  [419.5, [5.4, 4.9, 4.3, 3.9, 3.3, 2.9]],
  [420.0, [6.0, 5.7, 5.3]],
  [421.5, [2.9, 2.6, 5.6, 5.55]],
  [422.0, [5.0, 4.5, 3.9, 3.3, 2.9]],
  [422.5, [5.5, 5.45, 5.2]],
  [423.7, [6.5, 6.3, 5.6]],
  [425.5, [5.0, 4.5, 4.0, 3.4]],
  [426.3, [2.65, 2.35, 2.15, 1.76, 1.44, 1.24, 1.17]],
  [428.0, [4.0, 3.7, 3.3, 3.0, 2.7]],
  [428.5, [4.5, 4.45, 4.2]],
  [430.8, [6.05, 5.55, 4.95, 3.0]],
  [431.5, [4.4, 3.8, 3.2, 2.9]],
  [433.0, [2.0, 1.85]],
  [433.8, [5.5, 5.4, 5.25, 5.1, 4.95, 4.8, 4.7, 4.6]],
  [434.5, [4.4, 3.9, 3.4, 3.1, 2.8]],
  [435.5, [2.5, 2.4, 1.95, 2.3]],
  [436.5, [3.8, 3.4, 3.0, 2.5, 2.2]],
  [438.5, [4.0, 3.6, 3.3, 3.0, 2.7, 2.5]],
  [439.0, [1.65, 1.85, 2.4]],
  [440.5, [4.9, 4.5, 3.9, 3.3, 2.7, 2.3, 2.1]],
  [441.7, [2.3, 2.2, 2.1, 2.0, 1.9, 1.8]],
  [443.0, [3.6, 3.2, 2.8, 2.4, 2.2, 2.0]],
  [444.0, [1.5, 1.4, 1.3, 1.2, 1.1, 1.0, 1.3]],
  [445.5, [3.5, 3.0, 2.6, 2.2, 1.5, 1.2]],
  [447.0, [1.5, 1.4, 1.3, 1.2, 1.1, 2.55]],
  [448.0, [3.2, 2.7, 2.5]],
  [449.4, [5.55, 1.85]],
  [450.5, [3.8, 3.5, 2.9, 2.6, 2.2]],
  [451.3, [4.8, 4.3, 4.2, 3.9, 3.4]],
  [452.5, [3.2, 3.3]],
  [453.0, [3.6, 3.2, 2.9]],
  [462.8, [2.55, 2.5, 2.0, 1.95, 1.85]],
  [468.8, [3.75, 3.35, 3.15, 2.9, 1.6]],
];
const janFebOrange: Col[] = [
  [365.0, [3.05, 2.9, 2.7, 2.55, 2.35]],
  [365.5, [3.1, 2.95, 2.8, 2.65, 2.5, 2.4]],
  [366.2, [3.0, 2.85, 2.7, 2.5]],
  [367.7, [1.9, 1.7, 2.85]],
  [369.6, [3.3, 3.1, 3.9, 3.0]],
  [371.5, [4.2, 4.0, 3.8, 3.6]],
  [372.2, [4.5, 4.3, 4.1, 3.9, 3.7]],
  [373.5, [4.0, 3.8, 3.6, 3.5]],
  [374.8, [5.1, 4.9, 4.7, 4.5, 4.2, 4.0, 3.9]],
  [375.5, [5.0, 4.8, 4.6, 4.3, 4.1, 3.9, 3.7, 3.5]],
  [376.3, [6.2, 6.0, 5.8, 5.6, 5.4, 5.2, 5.0, 4.8, 4.6, 4.4]],
  [376.8, [6.1, 5.9, 5.7, 5.5, 5.3, 5.1, 4.9, 4.7, 4.5, 4.3, 4.1, 3.9, 3.7]],
  [377.3, [8.07, 7.7, 7.4, 7.3, 7.1, 6.9, 6.7, 6.6, 6.3, 6.1, 6.0, 5.9, 5.7]],
  [377.8, [7.2, 7.0, 6.8, 6.5, 6.4, 6.2, 5.9, 5.7, 5.5, 5.3]],
  [378.5, [5.2, 5.0, 4.8, 6.6, 7.1]],
  [379.5, [5.2, 5.0, 4.8, 4.6, 4.4, 4.2, 4.0]],
  [380.5, [5.3, 5.1, 4.9, 4.7, 4.5, 4.3, 4.2, 4.1, 3.9, 3.7, 3.4, 2.9, 2.5]],
  [381.0, [5.2, 5.0, 4.7, 4.5, 4.3, 4.0, 3.8, 3.5, 3.3]],
  [381.6, [3.9, 3.7, 3.6, 3.4, 3.2]],
  [382.5, [5.2, 4.9, 4.6, 4.4, 4.0, 3.8, 3.5]],
  [383.5, [6.85, 6.7, 6.5, 6.3, 6.2, 5.9, 5.7, 5.0, 4.6, 4.2]],
  [383.9, [6.6, 6.4, 6.2, 6.0, 5.8, 5.6, 5.4, 4.8, 4.4]],
  [384.6, [4.9, 4.5, 4.1, 3.9, 3.7, 3.4]],
  [385.4, [3.2, 3.0, 2.65, 2.2, 2.1, 2.0, 1.9, 1.75, 1.45, 1.35, 1.25, 5.1, 4.6]],
  [387.2, [3.7, 3.5, 3.3, 3.0]],
  [389.5, [2.0, 1.9, 2.2, 2.1, 2.15]],
  [391.4, [6.9, 6.7, 6.5, 6.3, 6.1, 5.9, 5.7, 5.6, 5.5, 5.3, 5.0, 4.85, 4.6, 4.4, 3.7]],
  [391.9, [6.8, 6.6, 6.4, 6.2, 6.0, 5.8, 5.6, 5.4, 5.2, 5.1, 4.9]],
  [396.3, [5.0, 4.8, 4.6, 4.4, 4.2, 4.0, 3.8, 3.6]],
  [396.8, [4.9, 4.7, 4.5, 4.3, 4.1, 3.9, 3.7, 3.5, 3.3, 3.1]],
  [397.5, [4.3, 4.1, 3.9, 3.7, 3.5, 3.3, 3.1, 2.9]],
  [398.5, [3.9, 3.7, 3.5, 3.3, 3.1, 2.9, 2.7, 2.5, 2.4]],
  [399.2, [3.8, 3.6, 3.4, 3.2, 3.0, 2.8, 2.6]],
  [400.2, [4.0, 3.7, 3.4, 3.2, 3.0, 2.8]],
  [400.8, [4.0, 3.8, 3.5, 3.3, 3.1]],
  [401.5, [4.4, 4.1, 3.9, 3.7, 3.5, 3.3, 3.1]],
  [402.3, [4.9, 4.7, 4.5, 4.3, 4.1, 3.9, 3.7, 3.5]],
  [402.8, [4.8, 4.6, 4.4, 4.2, 4.0, 3.8, 3.6, 3.4, 3.2]],
  [406.0, [2.75, 2.6, 2.4, 2.3]],
  [406.8, [6.3, 5.4, 5.3, 5.05, 5.0, 4.8]],
  [407.5, [5.2, 5.0, 4.7, 4.4, 4.1, 3.9, 3.7, 3.4]],
  [409.0, [4.9, 4.7, 4.2, 4.0, 3.8, 3.6, 3.4, 3.2, 3.0]],
  [409.6, [4.8, 4.6, 4.3, 4.1, 3.9, 3.7, 3.5, 3.3, 3.1]],
  [410.4, [4.9, 4.5, 4.3, 4.1, 3.7, 3.3, 3.0, 2.8]],
  [411.3, [2.75, 2.5, 3.4]],
  [412.5, [4.3, 4.1, 3.9, 3.7, 3.5, 3.3, 3.1, 2.9]],
  [413.2, [4.6, 4.4, 4.2, 4.0, 3.8, 3.6, 3.4]],
  [413.9, [4.5, 4.3, 4.1, 3.9, 3.7, 3.5]],
  [415.0, [3.9, 3.6, 3.4, 3.2, 3.0, 2.7]],
  [415.6, [3.8, 3.5, 3.3, 3.1, 2.9, 2.7]],
  [417.0, [10.4, 9.3, 9.1, 8.7, 8.65, 8.1, 7.7, 7.6, 7.5, 7.4, 7.3, 6.85, 6.7, 6.3, 5.7, 5.3, 5.2]],
  [417.2, [7.6, 7.45, 7.55, 5.0, 4.7, 4.4, 4.2, 4.0, 3.8, 3.4, 3.0]],
  [418.0, [5.0, 4.8, 4.6, 4.4]],
  [418.6, [5.0, 4.7, 4.5, 4.3, 4.1, 3.9, 3.7, 3.5, 3.3, 3.0]],
  [419.2, [3.8, 3.6, 3.4, 3.1, 2.8]],
  [420.3, [4.9, 4.6, 4.4, 4.2, 4.0, 3.7, 3.5, 3.3, 3.1, 2.9]],
  [421.0, [5.0, 4.7, 4.5, 4.3, 3.8, 3.6, 3.4, 3.2, 3.0]],
  [421.7, [5.0, 4.8, 4.6, 4.4, 4.2, 4.0, 3.7, 3.5, 3.3, 3.1]],
  [422.4, [5.1, 4.8, 4.6, 4.4, 4.2, 3.9, 3.7, 3.5, 3.2, 3.0]],
  [423.0, [4.9, 4.7, 4.5, 4.3, 4.1, 3.8, 3.6, 3.4]],
  [423.6, [5.1, 4.8, 4.6, 4.4, 4.2, 4.0, 3.7, 3.5]],
  [424.2, [5.3, 5.0, 4.8, 4.6, 4.4, 4.2, 4.0, 3.7]],
  [424.8, [5.2, 5.1, 4.9, 4.7, 4.5, 4.3, 4.1]],
  [426.2, [3.0, 2.9, 2.7, 2.6]],
  [426.7, [3.05, 2.85, 2.75, 2.65]],
  [429.0, [3.5, 3.3, 2.9, 2.7, 2.5, 2.3]],
  [429.7, [4.2, 4.0, 3.8, 3.6, 3.4, 3.2, 3.0, 2.8]],
  [430.8, [4.0, 3.8, 3.6, 3.4, 3.2, 3.0]],
  [431.3, [3.9, 3.7, 3.5, 3.3, 3.1]],
  [432.8, [4.4, 4.2, 4.0, 3.8, 3.6, 3.4, 3.2, 3.0]],
  [433.0, [1.85, 1.7]],
  [433.8, [4.5, 4.3, 4.1, 3.9, 3.7, 3.5, 3.3]],
  [434.3, [4.4, 4.2, 4.0, 3.8, 3.6, 3.4, 3.2, 3.0]],
  [435.3, [4.0, 3.8, 3.6, 3.4, 3.0, 2.9, 2.7, 2.6, 2.5, 2.4]],
  [436.0, [3.3, 3.1, 2.9, 2.7, 2.5]],
  [438.8, [3.5, 3.3, 3.1, 2.9, 2.7]],
  [439.5, [3.4, 3.2, 3.0, 2.8, 2.6]],
  [440.3, [4.4, 4.2, 4.0, 3.8, 3.6, 3.4, 3.2, 3.0, 2.8, 2.6]],
  [441.0, [4.7, 4.5, 4.3, 4.1, 3.9, 3.7, 3.5, 3.3, 3.1]],
  [441.6, [4.6, 4.4, 4.2, 4.0, 3.8, 3.6, 3.4, 3.2, 3.0]],
  [442.8, [3.8, 3.6, 3.4]],
  [443.4, [3.9, 3.7, 3.5, 3.3, 3.1, 2.9, 2.7]],
  [444.0, [2.9, 2.7, 2.5]],
  [444.7, [4.4, 4.1, 3.9]],
  [445.3, [3.8, 3.6, 3.4, 3.2, 3.0, 2.8, 2.6]],
  [446.0, [3.3, 3.1, 2.9, 2.7]],
  [447.0, [2.6, 2.35, 2.15, 1.95, 1.85, 2.85]],
  [447.7, [2.4, 2.3, 2.2, 2.1, 2.0, 1.9, 1.8]],
  [448.3, [2.5, 2.35, 2.25, 2.05, 1.85]],
  [449.2, [2.4, 2.2, 2.0, 1.9]],
  [449.6, [3.2, 3.1, 2.9]],
  [450.4, [3.1, 2.9, 2.7, 2.5]],
  [451.0, [4.2, 4.0, 3.2, 3.0, 2.8]],
  [451.7, [3.6, 3.4, 3.2, 3.0, 2.8]],
  [452.2, [3.5, 3.3, 3.1, 2.9]],
  [452.7, [3.3, 3.1, 2.9]],
  [462.8, [2.3, 2.1, 1.9, 1.8, 1.7, 1.6]],
  [463.2, [1.95, 1.85, 1.75, 1.65]],
  [468.3, [2.05, 1.95, 1.85, 1.75, 1.65]],
  [468.8, [2.7, 2.5, 2.1, 2.0, 1.9, 1.8, 1.7, 1.6]],
];

const blueColumns: Col[][] = [janBlue, marBlue, mayBlue, sepBlue, novBlue, janFebBlue];
const orangeColumns: Col[][] = [janOrange, marOrange, mayOrange, sepOrange, novOrange, janFebOrange];

const toPoints = (groups: Col[][]) =>
  groups.flatMap((g) => g.flatMap(([x, ys]) => ys.map((y) => ({ x, y }))));

const INK = "#333333";

const matlabFrame = {
  id: "matlabFrame",
  afterDatasetsDraw(chart: any) {
    const { ctx, chartArea: a, scales } = chart;
    ctx.save();
    ctx.strokeStyle = INK;
    ctx.lineWidth = 3;
    ctx.beginPath();
    ctx.rect(a.left, a.top, a.right - a.left, a.bottom - a.top);
    for (const v of xTickValues) {
      const p = scales.x.getPixelForValue(v);
      ctx.moveTo(p, a.bottom);
      ctx.lineTo(p, a.bottom - 33);
      ctx.moveTo(p, a.top);
      ctx.lineTo(p, a.top + 33);
    }
    for (const v of yTickValues) {
      const p = scales.y.getPixelForValue(v);
      ctx.moveTo(a.left, p);
      ctx.lineTo(a.left + 33, p);
      ctx.moveTo(a.right, p);
      ctx.lineTo(a.right - 33, p);
    }
    ctx.stroke();
    ctx.fillStyle = INK;
    ctx.font = "bold 56px 'Liberation Sans'";
    ctx.textAlign = "center";
    ctx.textBaseline = "middle";
    ctx.fillText("Sample Time", 1794, 1915);
    ctx.translate(72, 955);
    ctx.rotate(-Math.PI / 2);
    ctx.fillText("Hm0 (m)", 0, 0);
    ctx.restore();
  },
};

export default function App() {
  const ref = useRef<HTMLCanvasElement>(null);
  useEffect(() => {
    const chart = new Chart(ref.current!, {
      type: "scatter",
      data: {
        datasets: [
          {
            label: "Orange",
            data: toPoints(orangeColumns),
            order: 1,
            pointStyle: "star",
            pointRadius: 11.5,
            pointBorderWidth: 4.5,
            pointBorderColor: "#D95319",
            pointBackgroundColor: "#D95319",
          },
          {
            label: "Blue",
            data: toPoints(blueColumns),
            order: 2,
            pointStyle: "star",
            pointRadius: 11.5,
            pointBorderWidth: 4.5,
            pointBorderColor: "#0072BD",
            pointBackgroundColor: "#0072BD",
          },
        ],
      },
      options: {
        responsive: false,
        animation: false,
        layout: { padding: { left: 0, top: 67, right: 74, bottom: 0 } },
        plugins: { legend: { display: false }, tooltip: { enabled: false } },
        scales: {
          x: {
            type: "linear",
            min: -5,
            max: 473.7,
            afterFit: (s: any) => { s.height = 184; s.paddingLeft = 0; s.paddingRight = 0; },
            afterBuildTicks: (s: any) => { s.ticks = xTickValues.map((value) => ({ value })); },
            grid: { display: false, drawTicks: false },
            border: { display: false },
            ticks: {
              autoSkip: false,
              maxRotation: 0,
              minRotation: 0,
              padding: 24,
              labelOffset: -22,
              color: INK,
              font: { family: "'Liberation Sans'", weight: "bold", size: 52 },
              callback: (v: any) => xTickLabels[xTickValues.indexOf(Number(v))] ?? "",
            },
          },
          y: {
            type: "linear",
            min: 0,
            max: 14,
            afterFit: (s: any) => { s.width = 200; s.paddingTop = 0; s.paddingBottom = 0; },
            afterBuildTicks: (s: any) => { s.ticks = yTickValues.map((value) => ({ value })); },
            grid: { display: false, drawTicks: false },
            border: { display: false },
            ticks: {
              padding: 34,
              color: INK,
              font: { family: "'Liberation Sans'", weight: "bold", size: 52 },
            },
          },
        },
      },
      plugins: [matlabFrame],
    } as any);
    return () => chart.destroy();
  }, []);
  return (
    <div style={{ position: "absolute", left: 0, top: 0, width: 3526, height: 1976, background: "#fff" }}>
      <canvas ref={ref} width={3526} height={1976} style={{ display: "block" }} />
    </div>
  );
}
